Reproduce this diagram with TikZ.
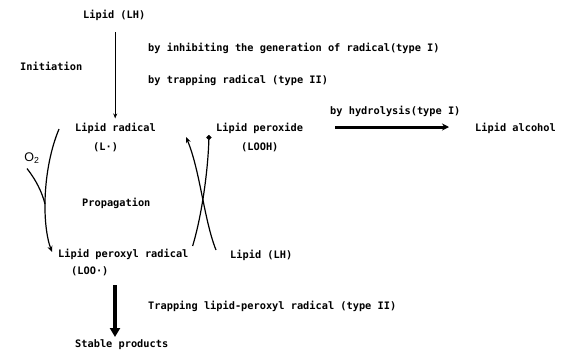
\documentclass[tikz,border=0pt]{standalone}
\usepackage{fontspec}
\setmainfont{DejaVu Sans Mono}
\newfontfamily\osans{Liberation Sans}
\usetikzlibrary{arrows.meta,calc}
\begin{document}
\begin{tikzpicture}[x=1pt,y=-1pt,
  lbl/.style={anchor=west,inner sep=0pt,font=\bfseries\fontsize{10.3}{12}\selectfont},
  thinarrow/.style={line width=0.9pt,-{Stealth[length=5pt,width=4pt]}},
  curvearrow/.style={line width=1.2pt,-{Stealth[length=6pt,width=5pt]}},
  dotend/.style={line width=1.2pt,-{Circle[length=5pt]}},
  thickarrow/.style={line width=3pt,-{Stealth[length=7pt,width=7pt]}},
  bigarrow/.style={line width=3.8pt,-{Triangle[length=9pt,width=10pt]}}]
\useasboundingbox (0,0) rectangle (562,354);
\node[lbl] (lh1) at (83,15) {Lipid (LH)};
\node[lbl] (init) at (20,66) {Initiation};
\node[lbl] (t1) at (148,48) {by inhibiting the generation of radical(type I)};
\node[lbl] (t2) at (148,80) {by trapping radical (type II)};
\node[lbl] (lr) at (75,128) {Lipid radical};
\node[lbl] (lrs) at (93,147) {(L·)};
\node[lbl] (lp) at (216,128) {Lipid peroxide};
\node[lbl] (lps) at (241,147) {(LOOH)};
\node[lbl] (hyd) at (330,111) {by hydrolysis(type I)};
\node[lbl] (la) at (475,128) {Lipid alcohol};
\node[inner sep=0pt,font=\osans\fontsize{12.5}{13}\selectfont] (o2) at (32,158) {O\textsubscript{2}};
\node[lbl] (prop) at (82,203) {Propagation};
\node[lbl] (lpr) at (58,254) {Lipid peroxyl radical};
\node[lbl] (lprs) at (71,271) {(LOO·)};
\node[lbl] (lh2) at (230,255) {Lipid (LH)};
\node[lbl] (trap) at (148,306) {Trapping lipid-peroxyl radical (type II)};
\node[lbl] (sp) at (75,345) {Stable products};
% initiation arrow
\draw[thinarrow] ($(lh1.south)+(1,12)$) -- ($(lh1.south)+(1,98)$);
% L. -> LOO. arc with O2
\coordinate (arcs) at ($(lr.west)+(-16,1)$);
\coordinate (arce) at ($(lpr.west)+(-6,-2)$);
\draw[curvearrow] (arcs) .. controls (42,170) and (42,225) .. (arce);
\coordinate (o2e) at (45,204);
\draw[line width=1.2pt] ($(o2.south)+(-5,5)$) .. controls (36,180) and (42,192) .. (o2e);
% crossing curves
\coordinate (c1s) at ($(lpr.east)+(4,-8)$);
\coordinate (c1e) at (209,135);
\draw[dotend] (c1s) .. controls (202,215) and (208,170) .. (c1e);
\coordinate (c2s) at ($(lh2.west)+(-14,-5)$);
\coordinate (c2e) at (186,137);
\draw[curvearrow] (c2s) .. controls (204,220) and (200,170) .. (c2e);
% hydrolysis
\draw[thickarrow] ($(hyd.west)+(5,16)$) -- ($(hyd.west)+(119,16)$);
% trapping arrow
\draw[bigarrow] (115,285) -- (115,337);
\end{tikzpicture}
\end{document}
